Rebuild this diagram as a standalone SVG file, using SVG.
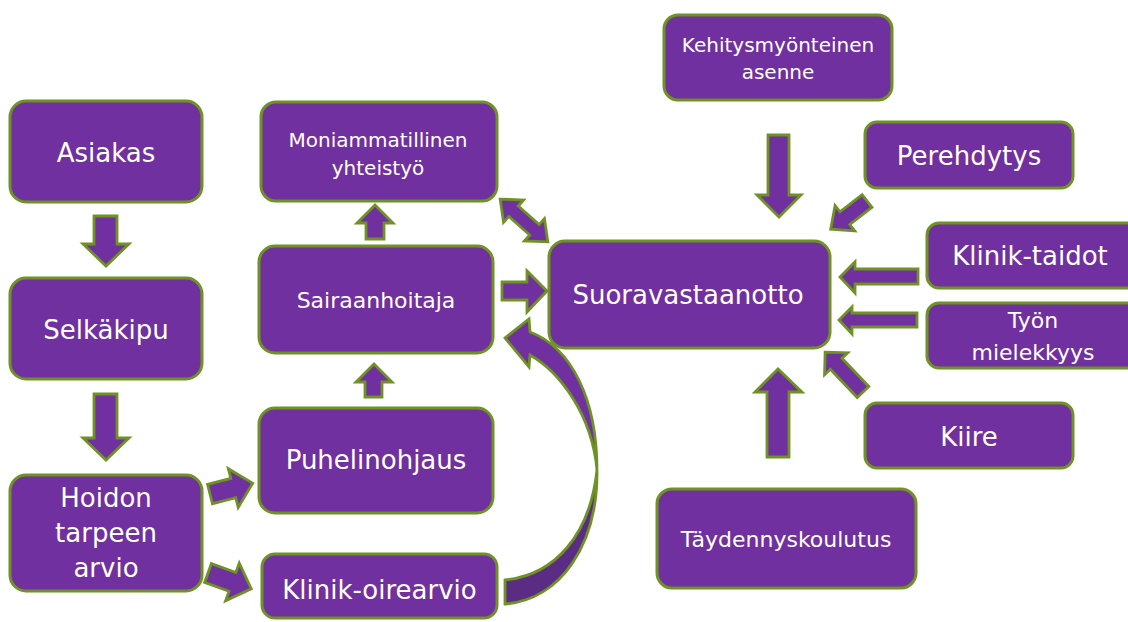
<svg xmlns="http://www.w3.org/2000/svg" width="1128" height="622" viewBox="0 0 1128 622">
<style>
.box{fill:#7030A0;stroke:#6F9225;stroke-width:3}
.arr{fill:#7030A0;stroke:#6F9225;stroke-width:2.8;stroke-linejoin:miter}
.dark{fill:#5A2C84;stroke:#6F9225;stroke-width:2.8}
text{font-family:"DejaVu Sans","Liberation Sans",sans-serif;fill:#FFFFFF;text-anchor:middle}
.t26{font-size:26px}
.t22{font-size:22px}
.t20{font-size:20px}
</style>
<rect width="1128" height="622" fill="#FFFFFF"/>
<g id="connectors">
<polygon class="arr" points="94,216 117,216 117,244 129,244 106,266 83,244 94,244"/>
<polygon class="arr" points="94,394 117,394 117,438 129,438 106,460 83,438 94,438"/>
<polygon class="arr" points="366,239 384,239 384,223 393,223 375,205 357,223 366,223"/>
<polygon class="arr" points="365,397 382,397 382,382 392,382 374,364 356,382 365,382"/>
<polygon class="arr" points="502,282 527,282 527,271 547,291 527,312 527,300 502,300"/>
<polygon class="arr" transform="translate(524,220.5) rotate(41.9)" points="-32,0 -14,-15 -14,-7 14,-7 14,-15 32,0 14,15 14,7 -14,7 -14,15"/>
<polygon class="arr" transform="translate(210,494) rotate(-14.3)" points="0,-10 24,-10 24,-20 44,0 24,20 24,10 0,10"/>
<polygon class="arr" transform="translate(208,573) rotate(20)" points="0,-10 26,-10 26,-20 46,0 26,20 26,10 0,10"/>
<path class="arr" d="M530,332 C572,348 597,400 597,470 C592,415 560,372 530,355 L529,367 L505,338 L529,319 Z"/>
<path class="dark" d="M597,470 C598,545 560,600 505,604 L505,580 C555,575 590,535 597,470 Z"/>
<polygon class="arr" points="768,135 789,135 789,195 801,195 779,217 757,195 768,195"/>
<polygon class="arr" transform="translate(867,201) rotate(142.1)" points="0,-8 28,-8 28,-16 46,0 28,16 28,8 0,8"/>
<polygon class="arr" points="918,269 855,269 855,262 840,277 855,293 855,284 918,284"/>
<polygon class="arr" points="917,313 852,313 852,307 839,320 852,334 852,327 917,327"/>
<polygon class="arr" transform="translate(863,392) rotate(-133.5)" points="0,-8 39,-8 39,-16 55,0 39,16 39,8 0,8"/>
<polygon class="arr" points="767,457 789,457 789,392 802,392 778,369 755,392 767,392"/>
</g>
<g id="asiakas"><rect class="box" x="10" y="101" width="192" height="101" rx="16"/><text class="t26" x="106" y="162">Asiakas</text></g>
<g id="selkakipu"><rect class="box" x="10" y="278" width="192" height="101" rx="16"/><text class="t26" x="106" y="339">Selkäkipu</text></g>
<g id="hoidon"><rect class="box" x="10" y="475" width="192" height="116" rx="16"/><text class="t26" x="106" y="507">Hoidon</text><text class="t26" x="106" y="542">tarpeen</text><text class="t26" x="106" y="577">arvio</text></g>
<g id="moniammatillinen"><rect class="box" x="261" y="102" width="236" height="99" rx="15"/><text class="t20" x="378" y="147">Moniammatillinen</text><text class="t20" x="378" y="175">yhteistyö</text></g>
<g id="sairaanhoitaja"><rect class="box" x="259" y="246" width="234" height="107" rx="16"/><text class="t22" x="376" y="308">Sairaanhoitaja</text></g>
<g id="puhelinohjaus"><rect class="box" x="259" y="408" width="234" height="105" rx="16"/><text class="t26" x="376" y="469">Puhelinohjaus</text></g>
<g id="klinik-oirearvio"><rect class="box" x="262" y="554" width="235" height="64" rx="13"/><text class="t26" x="379.5" y="599">Klinik-oirearvio</text></g>
<g id="suoravastaanotto"><rect class="box" x="549" y="241" width="281" height="107" rx="16"/><text class="t26" x="688" y="304">Suoravastaanotto</text></g>
<g id="kehitysmyonteinen"><rect class="box" x="664" y="15" width="228" height="85" rx="14"/><text class="t20" x="778" y="52">Kehitysmyönteinen</text><text class="t20" x="778" y="79">asenne</text></g>
<g id="perehdytys"><rect class="box" x="865" y="122" width="208" height="66" rx="12"/><text class="t26" x="969" y="165">Perehdytys</text></g>
<g id="klinik-taidot"><rect class="box" x="927" y="223" width="215" height="65" rx="12"/><text class="t26" x="1030" y="265">Klinik-taidot</text></g>
<g id="tyon-mielekkyys"><rect class="box" x="927" y="303" width="215" height="65" rx="12"/><text class="t22" x="1033" y="328">Työn</text><text class="t22" x="1033" y="360">mielekkyys</text></g>
<g id="kiire"><rect class="box" x="865" y="403" width="208" height="65" rx="12"/><text class="t26" x="969" y="446">Kiire</text></g>
<g id="taydennyskoulutus"><rect class="box" x="657" y="489" width="259" height="99" rx="15"/><text class="t22" x="786" y="547">Täydennyskoulutus</text></g>
</svg>
